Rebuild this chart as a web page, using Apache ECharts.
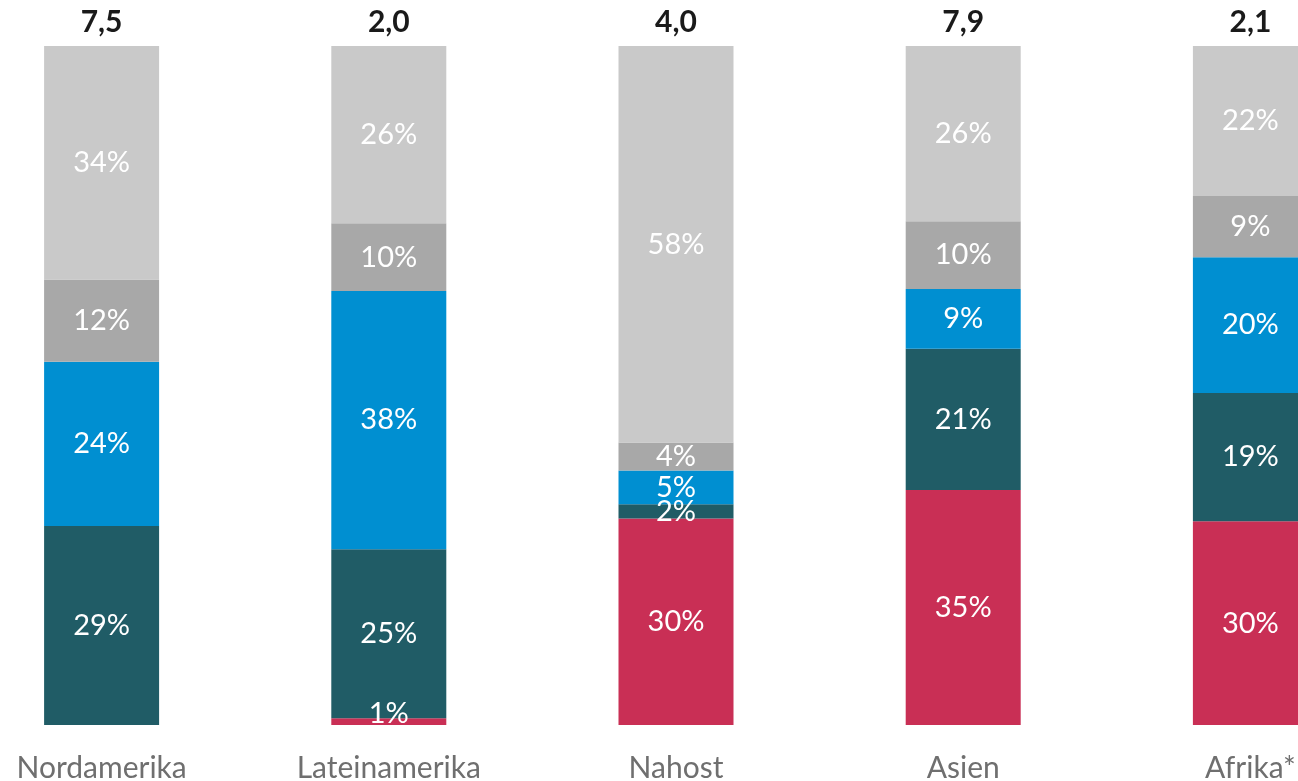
<!DOCTYPE html>
<html>
<head>
<meta charset="utf-8">
<script src="https://cdn.jsdelivr.net/npm/echarts@6/dist/echarts.min.js"></script>
<style>
  html, body { margin: 0; padding: 0; background: #fff; overflow: hidden; width: 1298px; height: 781px; }
  /* the chart is wider than the window, its outer bars are cut like in the original */
  #chart { position: absolute; left: -42px; top: 0; width: 1436px; height: 781px; }
</style>
</head>
<body>
<div id="chart"></div>
<script>
// Regionen und Gesamtwerte
const regions = ['Nordamerika', 'Lateinamerika', 'Nahost', 'Asien', 'Afrika*'];
const totals = ['7,5', '2,0', '4,0', '7,9', '2,1'];

// Anteile in %, von unten nach oben gestapelt
const redShare = [0, 1.0, 30.4, 34.6, 30.0];
const tealShare = [29.3, 24.9, 2.1, 20.8, 18.9];
const blueShare = [24.2, 38.0, 5.0, 8.8, 20.0];
const darkGreyShare = [12.1, 10.0, 4.1, 10.0, 9.0];
const lightGreyShare = [34.4, 26.1, 58.4, 25.8, 22.1];

const font = 'Lato, "Noto Sans", sans-serif';

const chart = echarts.init(document.getElementById('chart'));

const parts = [
  ['rot', redShare, '#c92f55'],
  ['petrol', tealShare, '#205c66'],
  ['blau', blueShare, '#008fd1'],
  ['dunkelgrau', darkGreyShare, '#a8a8a8'],
  ['hellgrau', lightGreyShare, '#c9c9c9'],
];

// coloured segments
const barSeries = parts.map(([name, data, color]) => ({
  name: name,
  type: 'bar',
  stack: 'total',
  barWidth: 115,
  barGap: '-100%',
  data: data,
  itemStyle: { color: color },
}));

// same stack again, transparent, only for the labels so they sit above every bar
const labelSeries = parts.map(([name, data]) => ({
  name: name + '-label',
  type: 'bar',
  stack: 'labels',
  barWidth: 115,
  barGap: '-100%',
  z: 10,
  silent: true,
  // very thin segments get their label nudged upwards
  data: data.map((v) => (v > 0 && v < 2 ? { value: v, label: { offset: [0, -8] } } : v)),
  itemStyle: { color: 'rgba(0,0,0,0)' },
  label: {
    show: true,
    position: 'inside',
    color: '#fff',
    fontFamily: font,
    fontSize: 29,
    formatter: (p) => (p.value > 0 ? Math.round(p.value) + '%' : ''),
  },
}));

chart.setOption({
  animation: false,
  grid: {
    left: 0,
    right: 0,
    top: 46,
    bottom: 56,
    containLabel: false,
    outerBoundsMode: 'none',
  },
  xAxis: [
    {
      type: 'category',
      data: regions,
      axisLine: { show: false },
      axisTick: { show: false },
      axisLabel: {
        color: '#6f6f6f',
        fontFamily: font,
        fontSize: 30,
        margin: 28,
        interval: 0,
      },
    },
    {
      type: 'category',
      position: 'top',
      data: totals,
      axisLine: { show: false },
      axisTick: { show: false },
      axisLabel: {
        color: '#1a1a1a',
        fontFamily: font,
        fontSize: 30,
        fontWeight: 'bold',
        margin: 9,
        interval: 0,
      },
    },
  ],
  yAxis: {
    type: 'value',
    min: 0,
    max: 100,
    show: false,
    splitLine: { show: false },
  },
  series: barSeries.concat(labelSeries),
});
</script>
</body>
</html>
